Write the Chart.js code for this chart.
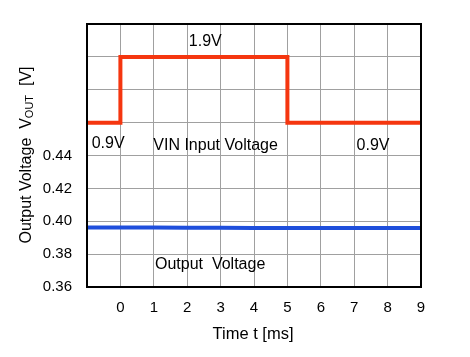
<!DOCTYPE html>
<html><head><meta charset="utf-8">
<script src="https://cdn.jsdelivr.net/npm/chart.js@4"></script>
<style>html,body{margin:0;padding:0;background:#fff}#w{width:470px;height:357px}</style>
</head><body><div id="w"><canvas id="c"></canvas></div>
<script>
const vinTime = [-1, 0, 0, 5, 5, 9];
const vinLevel = [0.46, 0.46, 0.50, 0.50, 0.46, 0.46];
const voutTime = [-1, 0, 1, 2, 3, 4, 5, 6, 7, 8, 9];
const voutValue = [0.3962, 0.3962, 0.3962, 0.3961, 0.396, 0.3959, 0.3959, 0.3959, 0.3959, 0.3959, 0.3959];
const xTicks = [0, 1, 2, 3, 4, 5, 6, 7, 8, 9];
const yTickLabels = ['0.36', '0.38', '0.40', '0.42', '0.44'];
const labels = [
  {t: '1.9V', x: 2.05, y: 0.5094},
  {t: '0.9V', x: -0.86, y: 0.4472},
  {t: 'VIN Input Voltage', x: 0.985, y: 0.4459},
  {t: '0.9V', x: 7.07, y: 0.4459},
  {t: 'Output  Voltage', x: 1.036, y: 0.3739}
];
const FONT = '"Liberation Sans", Arial, sans-serif';

const deco = {
  id: 'deco',
  afterDraw(chart) {
    const {ctx, chartArea: a, scales: {x, y}} = chart;
    ctx.save();
    ctx.strokeStyle = '#000';
    ctx.lineWidth = 2;
    ctx.strokeRect(a.left, a.top, a.right - a.left, a.bottom - a.top);
    ctx.fillStyle = '#000';
    ctx.font = '16px ' + FONT;
    ctx.textBaseline = 'middle';
    ctx.textAlign = 'left';
    labels.forEach(l => ctx.fillText(l.t, x.getPixelForValue(l.x), y.getPixelForValue(l.y)));
    // x title
    ctx.textAlign = 'center';
    ctx.font = '16.5px ' + FONT;
    ctx.fillText('Time t [ms]', 253, 334);
    // y title rotated with subscript
    ctx.translate(27, 155);
    ctx.rotate(-Math.PI / 2);
    const p1 = 'Output Voltage  V', sub = 'OUT', p2 = '  [V]';
    const big = '16px ' + FONT, small = '11px ' + FONT;
    ctx.font = big;
    const w1 = ctx.measureText(p1).width, w3 = ctx.measureText(p2).width;
    ctx.font = small;
    const w2 = ctx.measureText(sub).width;
    let sx = -(w1 + w2 + w3) / 2;
    ctx.textAlign = 'left';
    ctx.font = big;
    ctx.fillText(p1, sx, 0); sx += w1;
    ctx.font = small;
    ctx.fillText(sub, sx, 3); sx += w2;
    ctx.font = big;
    ctx.fillText(p2, sx, 0);
    ctx.restore();
  }
};

new Chart(document.getElementById('c'), {
  type: 'line',
  data: {
    datasets: [
      {data: vinTime.map((t, i) => ({x: t, y: vinLevel[i]})), borderColor: '#f5360f', borderWidth: 4, pointRadius: 0, tension: 0, borderJoinStyle: 'miter'},
      {data: voutTime.map((t, i) => ({x: t, y: voutValue[i]})), borderColor: '#1f4fdc', borderWidth: 4, pointRadius: 0, tension: 0}
    ]
  },
  options: {
    responsive: true, maintainAspectRatio: false, animation: false,
    layout: {padding: {left: 0, top: 22, right: 49, bottom: 0}},
    plugins: {legend: {display: false}, tooltip: {enabled: false}},
    scales: {
      x: {
        type: 'linear', min: -1, max: 9,
        afterFit(s) { s.height = 70; },
        afterBuildTicks(s) { s.ticks = [-1].concat(xTicks).map(v => ({value: v})); },
        ticks: {color: '#000', font: {size: 15, family: FONT}, padding: 12, maxRotation: 0,
          callback: v => (v >= 0 ? String(v) : '')},
        grid: {color: '#a0a0a0', lineWidth: 1, drawTicks: false},
        border: {display: false}
      },
      y: {
        min: 0.36, max: 0.52,
        afterFit(s) { s.width = 87; },
        afterBuildTicks(s) { s.ticks = [0, 1, 2, 3, 4, 5, 6, 7, 8].map(i => ({value: 0.36 + i * 0.02})); },
        ticks: {color: '#000', font: {size: 15, family: FONT}, padding: 15,
          callback: (v, i) => (i < yTickLabels.length ? yTickLabels[i] : '')},
        grid: {color: '#a0a0a0', lineWidth: 1, drawTicks: false},
        border: {display: false}
      }
    }
  },
  plugins: [deco]
});
</script>
</body></html>
